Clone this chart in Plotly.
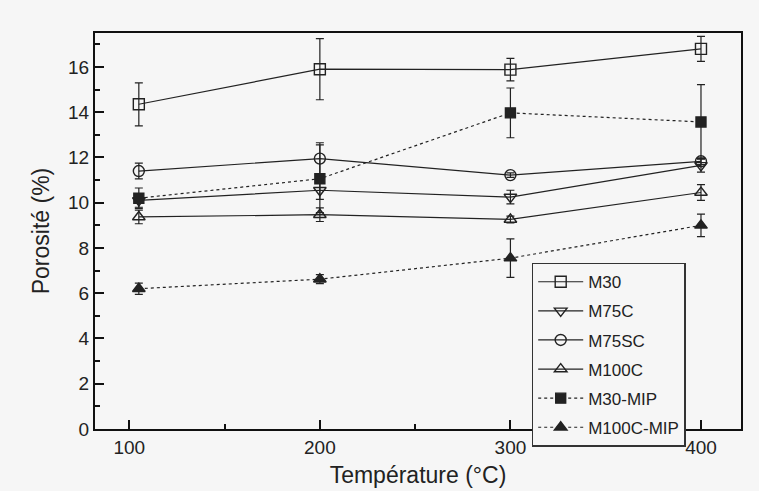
import plotly.graph_objects as go

temps = [105, 200, 300, 400]

m30 = [14.35, 15.9, 15.88, 16.8]
m30_err = [0.95, 1.35, 0.5, 0.55]
m75c = [10.1, 10.55, 10.25, 11.65]
m75c_err = [0.3, 0.4, 0.3, 0.3]
m75sc = [11.4, 11.95, 11.22, 11.83]
m75sc_err = [0.35, 0.7, 0.1, 0.15]
m100c = [9.37, 9.47, 9.26, 10.45]
m100c_err = [0.3, 0.3, 0.15, 0.35]
m30_mip = [10.2, 11.06, 13.97, 13.57]
m30_mip_err = [0.45, 1.5, 1.1, 1.65]
m100c_mip = [6.2, 6.62, 7.55, 9.0]
m100c_mip_err = [0.25, 0.2, 0.85, 0.5]

series = [
    ("M30", m30, m30_err, "square-open", "solid", 11),
    ("M75C", m75c, m75c_err, "triangle-down-open", "solid", 11),
    ("M75SC", m75sc, m75sc_err, "circle-open", "solid", 11),
    ("M100C", m100c, m100c_err, "triangle-up-open", "solid", 11),
    ("M30-MIP", m30_mip, m30_mip_err, "square", "dot", 10),
    ("M100C-MIP", m100c_mip, m100c_mip_err, "triangle-up", "dot", 11),
]

fig = go.Figure()
for name, y, err, sym, dash, size in series:
    fig.add_trace(go.Scatter(
        x=temps, y=y, name=name, mode="lines+markers", legendgroup=name,
        line=dict(color="#222222", width=1.2, dash=dash),
        marker=dict(symbol=sym, size=size, color="#222222",
                    line=dict(color="#222222", width=1.4)),
        error_y=dict(type="data", array=err, visible=True,
                     color="#222222", thickness=1.2, width=4),
    ))

axis_common = dict(
    showline=True, linecolor="#111111", linewidth=2, mirror=True,
    ticks="inside", tickcolor="#111111", tickwidth=2, ticklen=9,
    showgrid=False, zeroline=False, automargin=False,
    tickfont=dict(family="Liberation Sans, Arial", size=19, color="#222222"),
)

fig.update_layout(
    width=759, height=491,
    margin=dict(l=95, r=18, t=33, b=62),
    paper_bgcolor="#f6f6f6", plot_bgcolor="#f6f6f6",
    font=dict(family="Liberation Sans, Arial", color="#222222"),
    xaxis=dict(range=[82, 421], tickvals=[100, 200, 300, 400],
               minor=dict(tickvals=[150, 250, 350], ticks="inside", ticklen=5,
                          tickwidth=2, tickcolor="#111111"),
               title=dict(text="Température (°C)", font=dict(size=23), standoff=10),
               **axis_common),
    yaxis=dict(range=[0, 17.5], tickvals=[0, 2, 4, 6, 8, 10, 12, 14, 16],
               minor=dict(dtick=1, ticks="inside", ticklen=5,
                          tickwidth=2, tickcolor="#111111"),
               title=dict(text="Porosité (%)", font=dict(size=23), standoff=12),
               **axis_common),
    legend=dict(x=0.676, y=0.42, xanchor="left", yanchor="top",
                bgcolor="#f6f6f6", bordercolor="#333333", borderwidth=1.5,
                font=dict(size=17, family="Liberation Sans, Arial", color="#222222"),
                tracegroupgap=4, itemwidth=45),
    showlegend=True,
)

fig.write_html("out.html", config={"displayModeBar": False},
               post_script="document.body.style.margin='0';")
